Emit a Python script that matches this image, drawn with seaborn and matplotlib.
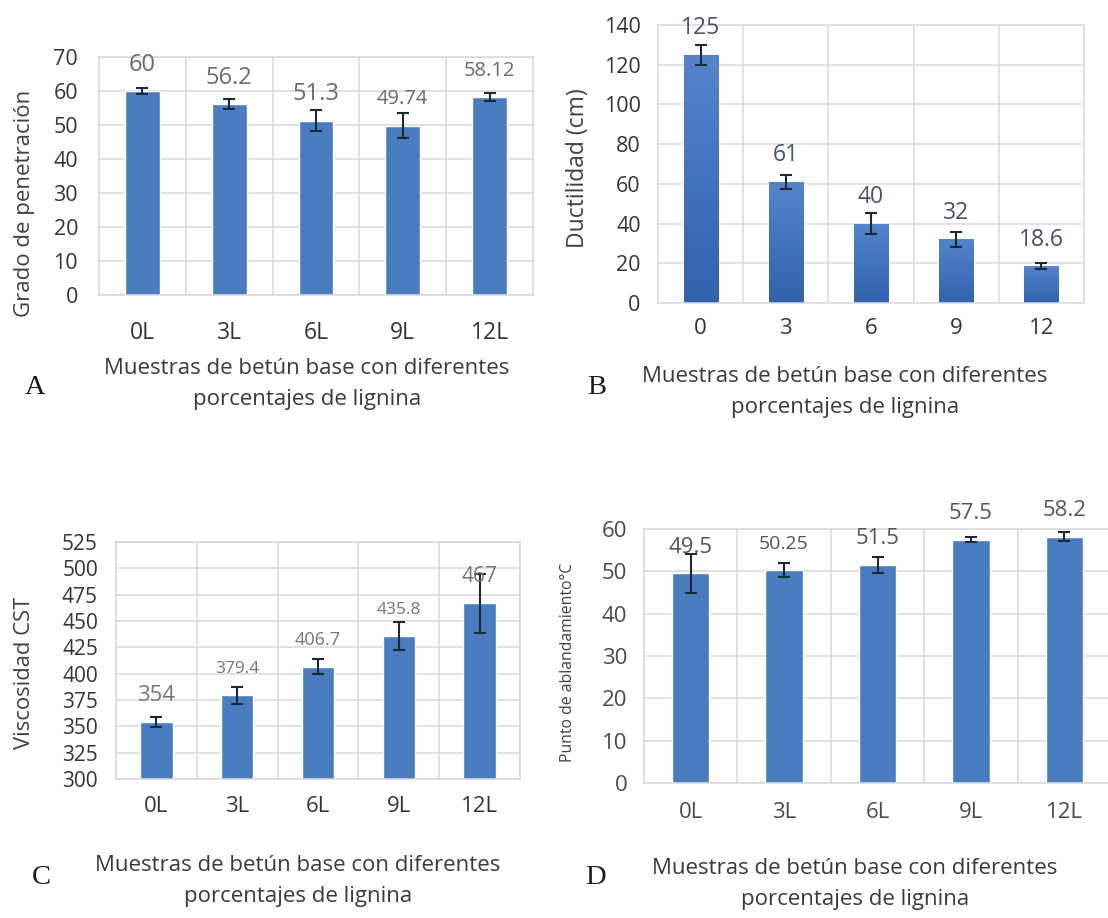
import numpy as np
import pandas as pd
import matplotlib
matplotlib.use("Agg")
import matplotlib.pyplot as plt
from matplotlib.colors import LinearSegmentedColormap
from matplotlib.ticker import MultipleLocator, FixedLocator
import seaborn as sns

# ---- data -------------------------------------------------------------
muestras_l = ["0L", "3L", "6L", "9L", "12L"]
porcentajes = ["0", "3", "6", "9", "12"]

penetracion = [60, 56.2, 51.3, 49.74, 58.12]
penetracion_err = [1.0, 1.5, 3.0, 3.7, 1.2]

ductilidad = [125, 61, 40, 32, 18.6]
ductilidad_err = [5.0, 3.7, 5.5, 4.0, 1.3]

viscosidad = [354, 379.4, 406.7, 435.8, 467]
viscosidad_err = [5.0, 8.0, 7.0, 13.0, 28.0]

ablandamiento = [49.5, 50.25, 51.5, 57.5, 58.2]
ablandamiento_err = [4.5, 1.7, 2.0, 0.5, 1.1]

xlabel_text = "Muestras de betún base con diferentes\nporcentajes de lignina"

# ---- style ------------------------------------------------------------
sns.set_theme(style="white")
plt.rcParams["font.family"] = ["Open Sans", "DejaVu Sans"]

W, H = 1108, 918
BAR = "#4a7dc0"
GRID = "#d9d9d9"
TICK = "#353535"
ERR = "#1b2838"

fig = plt.figure(figsize=(W / 100, H / 100), dpi=100)
fig.patch.set_facecolor("white")


def px_rect(l, t, r, b):
    return [l / W, 1 - b / H, (r - l) / W, (b - t) / H]


def fig_xy(x, y):
    return x / W, 1 - y / H


def panel(rect, cats, vals, errs, ylim, ystep, ylabel, ylabel_xy, ylabel_fs,
          tick_fs, xtick_fs, label_fs, label_color, xpad, ypad,
          tick_color=TICK, gradient=False, grid_color=GRID):
    ax = fig.add_axes(px_rect(*rect))
    df = pd.DataFrame({"cat": cats, "val": vals})
    sns.barplot(data=df, x="cat", y="val", ax=ax, color=BAR, width=0.4,
                saturation=1, errorbar=None, zorder=2)

    if gradient:
        cmap = LinearSegmentedColormap.from_list(
            "bar_grad", ["#3262ab", "#4273bd", "#5584cb"])
        grad = np.linspace(0, 1, 256).reshape(-1, 1)
        for p in ax.patches:
            x0, y0 = p.get_x(), p.get_y()
            x1, y1 = x0 + p.get_width(), y0 + p.get_height()
            im = ax.imshow(grad, cmap=cmap, origin="lower", aspect="auto",
                           extent=[x0, x1, y0, y1], zorder=2.5)
            im.set_clip_path(p)

    ax.set_xlim(-0.5, len(cats) - 0.5)
    ax.set_ylim(*ylim)
    ax.yaxis.set_major_locator(MultipleLocator(ystep))
    ax.xaxis.set_minor_locator(FixedLocator(np.arange(-0.5, len(cats), 1.0)))

    ax.set_axisbelow(True)
    ax.grid(True, which="major", axis="y", color=grid_color, lw=1.1)
    ax.grid(True, which="minor", axis="x", color=grid_color, lw=1.1)
    ax.grid(False, which="major", axis="x")
    for s in ax.spines.values():
        s.set_color(grid_color)
        s.set_linewidth(1.1)

    ax.tick_params(which="both", length=0)
    ax.tick_params(axis="x", labelsize=xtick_fs, colors=tick_color, pad=xpad)
    ax.tick_params(axis="y", labelsize=tick_fs, colors=tick_color, pad=ypad)

    ax.set_xlabel("")
    ax.set_ylabel(ylabel, fontsize=ylabel_fs, color="#404040")
    ax.yaxis.set_label_coords(*ylabel_xy)

    centers = [p.get_x() + p.get_width() / 2 for p in ax.patches]
    tops = [p.get_height() for p in ax.patches]
    ax.errorbar(centers, tops, yerr=errs, fmt="none", ecolor=ERR,
                elinewidth=1.5, capsize=4.3, capthick=1.5, zorder=4)

    for c, h, v, fs in zip(centers, tops, vals, label_fs):
        ax.annotate(f"{v:g}", (c, h), xytext=(0, 19), textcoords="offset points",
                    ha="center", va="center", fontsize=fs, color=label_color,
                    zorder=5, annotation_clip=False)
    return ax


# A: penetration grade
panel((99, 57, 533, 295), muestras_l, penetracion, penetracion_err,
      (0, 70), 10, "Grado de penetración", (-0.148, 0.387), 16,
      15.5, 16.5, [17, 17, 17, 14.5, 14.5], "#6a6a6a", 19, 15)

# B: ductility
panel((658, 25, 1084, 303), porcentajes, ductilidad, ductilidad_err,
      (0, 140), 20, "Ductilidad (cm)", (-0.16, 0.486), 16.5,
      15.5, 16, [16.5, 16.5, 16.5, 16.5, 16.5], "#44546a", 11, 12.5,
      gradient=True, grid_color="#d8dde6")

# C: viscosity
panel((116, 542, 520, 779), muestras_l, viscosidad, viscosidad_err,
      (300, 525), 25, "Viscosidad CST", (-0.2, 0.449), 15.8,
      15, 16, [16, 12.5, 13, 12.5, 15], "#767676", 12, 13)

# D: softening point
panel((644, 529, 1111, 783), muestras_l, ablandamiento, ablandamiento_err,
      (0, 60), 10, "Punto de ablandamiento°C", (-0.146, 0.474), 11.3,
      16, 16, [16, 14, 16, 16, 16], "#555555", 14, 12,
      tick_color="#4a4a4a")

# axis titles under each panel
for (x, y) in [(307, 384), (845, 392), (298, 881), (855, 884)]:
    fig.text(*fig_xy(x, y), xlabel_text, ha="center", va="center",
             multialignment="center", fontsize=16, color="#3a3a3a",
             linespacing=1.6)

# panel letters
for letter, (x, y) in zip("ABCD", [(35, 388), (597, 387), (41, 877), (595, 878)]):
    fig.text(*fig_xy(x, y), letter, ha="center", va="center",
             fontsize=20.5, family="Liberation Serif", color="#1a1a1a")

fig.savefig("out.png", dpi=100, facecolor="white")
